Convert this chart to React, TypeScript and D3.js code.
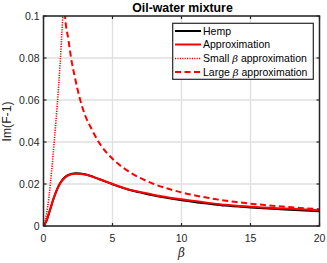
import React from "react";
import * as d3 from "d3";

const hempBeta = [0, 0.2, 0.47, 0.7, 0.96, 1.2, 1.56, 2, 2.35, 3, 4, 5, 6.27, 7, 8, 10, 12, 13.15, 15, 17.5, 20];
const hempValues = [0, 0.0022, 0.0076, 0.0125, 0.0171, 0.0203, 0.0233, 0.0248, 0.0251, 0.0246, 0.0224, 0.0199, 0.0171, 0.0160, 0.0145, 0.0123, 0.0106, 0.0097, 0.0088, 0.0078, 0.0070];
const approxValues = [0, 0.0022, 0.0076, 0.0125, 0.0171, 0.0202, 0.0231, 0.0246, 0.0249, 0.0245, 0.0224, 0.0200, 0.0172, 0.0162, 0.0148, 0.0127, 0.0110, 0.0101, 0.0092, 0.0083, 0.0075];
const smallBeta = [0, 0.2, 0.4, 0.6, 0.8, 1.0, 1.2, 1.4];
const smallValues = [0, 0.005, 0.014, 0.027, 0.042, 0.058, 0.077, 0.1];
const largeBeta = [1.5, 1.56, 1.8, 2, 2.3, 2.6, 3, 3.5, 4, 5, 6, 7, 8, 10, 12, 14, 16, 18, 20];
const largeValues = [0.106, 0.1, 0.089, 0.08, 0.07, 0.0615, 0.053, 0.046, 0.040, 0.032, 0.0267, 0.0229, 0.020, 0.016, 0.0133, 0.0114, 0.010, 0.0089, 0.008];
const xTicks = [0, 5, 10, 15, 20];
const yTicks = [0, 0.02, 0.04, 0.06, 0.08, 0.1];
const yTickLabels = ["0", "0.02", "0.04", "0.06", "0.08", "0.1"];
const legendLabels = ["Hemp", "Approximation", "Small", "Large"];

const W = 327, H = 263;
const L = 43.5, R = 319.5, T = 16, B = 226;
const axisColor = "#262626";
const font = "'Liberation Sans', Arial, Helvetica, sans-serif";

export default function App() {
  const x = d3.scaleLinear().domain([0, 20]).range([L, R]);
  const y = d3.scaleLinear().domain([0, 0.1]).range([B, T]);
  const line = (xs: number[], ys: number[]) =>
    d3.line<number>().x((_, i) => x(xs[i])).y((d) => y(d)).curve(d3.curveMonotoneX)(ys) || "";

  const series = [
    { d: line(hempBeta, hempValues), stroke: "#000", dash: undefined as string | undefined, w: 2 },
    { d: line(hempBeta, approxValues), stroke: "#ff0000", dash: undefined, w: 2 },
    { d: line(smallBeta, smallValues), stroke: "#ff0000", dash: "1.2 1.2", w: 1.6 },
    { d: line(largeBeta, largeValues), stroke: "#ff0000", dash: "6 3.5", w: 2 },
  ];

  const legX = 172.7, legY = 23.3, legW = 140.6, legH = 56;
  const rowY = [31, 44.5, 58.5, 72];

  return (
    <svg width={W} height={H} style={{ position: "absolute", left: 0, top: 0, background: "#fff" }} fontFamily={font}>
      <rect x={0} y={0} width={W} height={H} fill="#fff" />
      <defs>
        <clipPath id="plotclip">
          <rect x={L} y={T} width={R - L} height={B - T} />
        </clipPath>
      </defs>
      {/* grid */}
      {xTicks.map((t) => (
        <line key={"gx" + t} x1={x(t)} x2={x(t)} y1={T} y2={B} stroke="#dfdfdf" strokeWidth={1.3} />
      ))}
      {yTicks.map((t) => (
        <line key={"gy" + t} x1={L} x2={R} y1={y(t)} y2={y(t)} stroke="#dfdfdf" strokeWidth={1.3} />
      ))}
      {/* lines */}
      <g clipPath="url(#plotclip)">
        {series.map((s, i) => (
          <path key={i} d={s.d} fill="none" stroke={s.stroke} strokeWidth={s.w} strokeDasharray={s.dash} />
        ))}
      </g>
      {/* box */}
      <rect x={L} y={T} width={R - L} height={B - T} fill="none" stroke={axisColor} strokeWidth={1.5} />
      {/* ticks */}
      {xTicks.map((t) => (
        <g key={"tx" + t}>
          <line x1={x(t)} x2={x(t)} y1={B} y2={B - 3} stroke={axisColor} strokeWidth={1.2} />
          <line x1={x(t)} x2={x(t)} y1={T} y2={T + 3} stroke={axisColor} strokeWidth={1.2} />
          <text x={x(t)} y={242} textAnchor="middle" fontSize={10.5} fill={axisColor}>{t}</text>
        </g>
      ))}
      {yTicks.map((t, i) => (
        <g key={"ty" + t}>
          <line x1={L} x2={L + 3} y1={y(t)} y2={y(t)} stroke={axisColor} strokeWidth={1.2} />
          <line x1={R} x2={R - 3} y1={y(t)} y2={y(t)} stroke={axisColor} strokeWidth={1.2} />
          <text x={39.5} y={y(t) + 3.8} textAnchor="end" fontSize={10.5} fill={axisColor}>{yTickLabels[i]}</text>
        </g>
      ))}
      {/* labels */}
      <text x={182.5} y={12} textAnchor="middle" fontSize={12.3} fontWeight="bold" fill="#000">Oil-water mixture</text>
      <text transform={`translate(10.5,121.5) rotate(-90)`} textAnchor="middle" fontSize={12.2} fill={axisColor}>Im(F-1)</text>
      <text x={181.5} y={257} textAnchor="middle" fontSize={12} fontStyle="italic" fill={axisColor} fontFamily="'DejaVu Serif', serif">β</text>
      {/* legend */}
      <rect x={legX} y={legY} width={legW} height={legH} fill="#fff" stroke={axisColor} strokeWidth={1.2} />
      {series.map((s, i) => (
        <g key={"lg" + i}>
          <line x1={175} x2={201} y1={rowY[i]} y2={rowY[i]} stroke={s.stroke} strokeWidth={s.w} strokeDasharray={s.dash} />
          <text x={203} y={rowY[i] + 3.8} fontSize={10.5} fill="#000">
            {i < 2 ? legendLabels[i] : (
              <>
                {legendLabels[i]} <tspan fontStyle="italic" fontFamily="'DejaVu Serif', serif" fontSize={10}>β</tspan> approximation
              </>
            )}
          </text>
        </g>
      ))}
    </svg>
  );
}
